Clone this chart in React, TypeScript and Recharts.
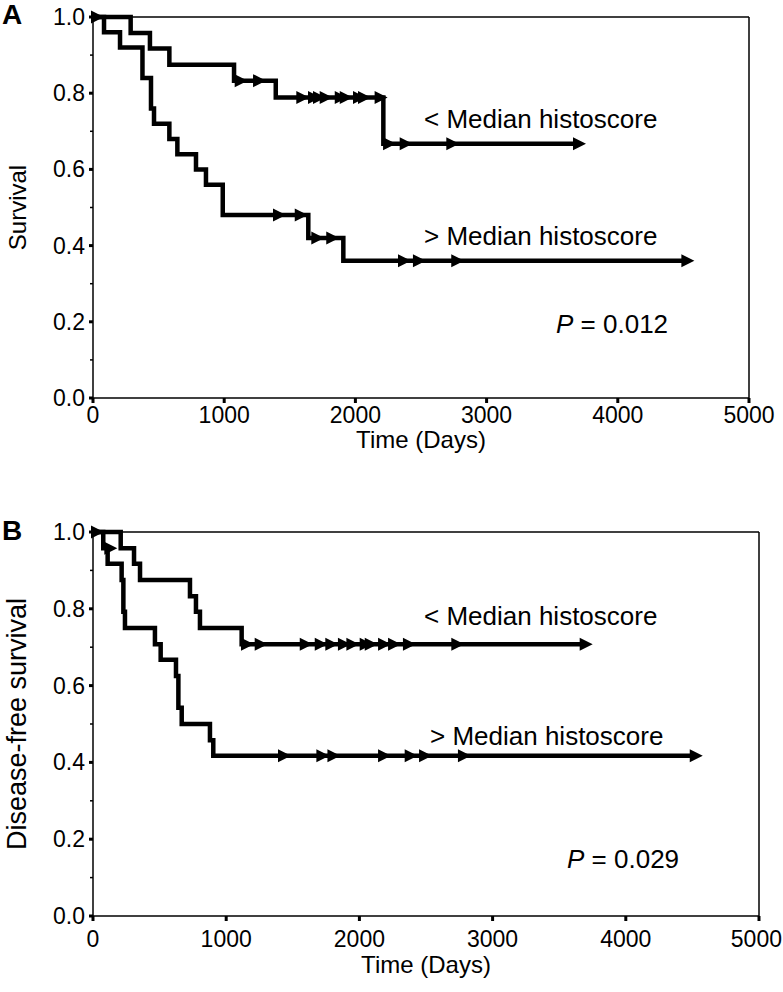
import React from "react";
import { ComposedChart, Line, XAxis, YAxis, ReferenceLine } from "recharts";

const FONT = '"Liberation Sans", Arial, Helvetica, sans-serif';

// Panel A - overall survival
const aUpTimes = [0, 287, 434, 582, 1075, 1393, 2213];
const aUpSurv = [1, 0.958, 0.917, 0.875, 0.833, 0.789, 0.667];
const aUpCensor = [0, 1095, 1235, 1565, 1654, 1692, 1743, 1858, 1896, 1997, 2035, 2162, 2226, 2353, 2708, 3674];

const aLowTimes = [0, 84, 206, 377, 442, 465, 582, 643, 785, 861, 989, 1641, 1908];
const aLowSurv = [1, 0.96, 0.92, 0.84, 0.76, 0.72, 0.68, 0.64, 0.6, 0.56, 0.48, 0.42, 0.36];
const aLowCensor = [1387, 1553, 1679, 1793, 2340, 2454, 2746, 4500];

// Panel B - disease-free survival
const bUpTimes = [0, 208, 308, 353, 728, 773, 803, 1116];
const bUpSurv = [1, 0.958, 0.917, 0.875, 0.833, 0.792, 0.75, 0.708];
const bUpCensor = [0, 1126, 1229, 1567, 1680, 1759, 1854, 1917, 2017, 2055, 2155, 2230, 2342, 2705, 3669];

const bLowTimes = [0, 77, 110, 215, 228, 240, 465, 508, 623, 641, 666, 878, 903];
const bLowSurv = [1, 0.958, 0.917, 0.875, 0.792, 0.75, 0.708, 0.667, 0.625, 0.542, 0.5, 0.458, 0.417];
const bLowCensor = [100, 1404, 1692, 1775, 2155, 2355, 2463, 2755, 4495];

const xTicks = [0, 1000, 2000, 3000, 4000, 5000];
const yTicks = [0, 0.1, 0.2, 0.3, 0.4, 0.5, 0.6, 0.7, 0.8, 0.9, 1];

// events + censored points, censored ones carry c: true
function kmPoints(times: number[], surv: number[], censor: number[]) {
  const pts = times.map((t, i) => ({ t, s: surv[i], c: false }));
  censor.forEach((t) => {
    let s = surv[0];
    times.forEach((et, i) => {
      if (et <= t) s = surv[i];
    });
    pts.push({ t, s, c: true });
  });
  return pts.sort((a, b) => a.t - b.t || (a.c ? 1 : 0) - (b.c ? 1 : 0));
}

const aUp = kmPoints(aUpTimes, aUpSurv, aUpCensor);
const aLow = kmPoints(aLowTimes, aLowSurv, aLowCensor);
const bUp = kmPoints(bUpTimes, bUpSurv, bUpCensor);
const bLow = kmPoints(bLowTimes, bLowSurv, bLowCensor);

const txt = { fontFamily: FONT, fill: "#000" };

function Censor(props: any) {
  const { cx, cy, payload, index } = props;
  if (!payload || !payload.c) return <g key={index} />;
  return (
    <polygon
      key={index}
      points={`${cx - 2},${cy - 6.5} ${cx + 11},${cy} ${cx - 2},${cy + 6.5}`}
      fill="#000"
    />
  );
}

function YTick(props: any) {
  const { x, y, payload } = props;
  const v = payload.value;
  const major = Math.round(v * 10) % 2 === 0;
  return (
    <g>
      <line x1={x - (major ? 4 : 3)} x2={x} y1={y} y2={y} stroke="#000" strokeWidth={major ? 3 : 1.5} />
      {major && (
        <text x={x - 8} y={y + 8} textAnchor="end" fontSize={23} {...txt}>
          {v.toFixed(1)}
        </text>
      )}
    </g>
  );
}

function makeXTick(gap: number) {
  return function XTick(props: any) {
    const { x, y, payload } = props;
    // keep the last label inside the page
    const overflow = x + 26 > 782;
    return (
      <g>
        <line x1={x} x2={x} y1={y} y2={y + 5} stroke="#000" strokeWidth={3} />
        <text
          x={overflow ? 782 : x}
          y={y + gap}
          textAnchor={overflow ? "end" : "middle"}
          fontSize={23}
          {...txt}
        >
          {payload.value}
        </text>
      </g>
    );
  };
}

const XTickA = makeXTick(25);
const XTickB = makeXTick(31);

function Panel({
  height,
  margin,
  upper,
  lower,
  letter,
  letterY,
  yLabel,
  yLabelSize,
  xTick,
  xLabelGap,
  upLabel,
  lowLabel,
  pText,
  pPos,
}: any) {
  // axes take 60px each, added to margin.left / margin.bottom
  const plotLeft = margin.left + 60;
  const plotBottom = height - margin.bottom - 60;
  const plotMidY = (margin.top + plotBottom) / 2;
  const plotMidX = (plotLeft + 783 - margin.right) / 2;
  const XT = xTick;
  return (
    <ComposedChart width={783} height={height} margin={margin}>
      <XAxis
        dataKey="t"
        type="number"
        domain={[0, 5000]}
        ticks={xTicks}
        interval={0}
        height={60}
        tickSize={0}
        tickMargin={0}
        tickLine={false}
        axisLine={{ stroke: "#000", strokeWidth: 1.5 }}
        tick={<XT />}
      />
      <YAxis
        type="number"
        domain={[0, 1]}
        ticks={yTicks}
        interval={0}
        width={60}
        tickSize={0}
        tickMargin={0}
        tickLine={false}
        axisLine={{ stroke: "#000", strokeWidth: 1.5 }}
        tick={<YTick />}
      />
      <ReferenceLine y={1} stroke="#000" strokeWidth={1.5} />
      <ReferenceLine x={5000} stroke="#000" strokeWidth={1.5} />
      <Line
        data={upper}
        dataKey="s"
        type="stepAfter"
        stroke="#000"
        strokeWidth={4.5}
        dot={Censor}
        activeDot={false}
        isAnimationActive={false}
      />
      <Line
        data={lower}
        dataKey="s"
        type="stepAfter"
        stroke="#000"
        strokeWidth={4.5}
        dot={Censor}
        activeDot={false}
        isAnimationActive={false}
      />
      <text x={2} y={letterY} fontSize={28} fontWeight="bold" {...txt}>
        {letter}
      </text>
      <text
        x={26}
        y={plotMidY}
        textAnchor="middle"
        fontSize={yLabelSize}
        transform={`rotate(-90, 26, ${plotMidY})`}
        {...txt}
      >
        {yLabel}
      </text>
      <text x={plotMidX} y={plotBottom + xLabelGap} textAnchor="middle" fontSize={24} {...txt}>
        Time (Days)
      </text>
      <text x={upLabel[0]} y={upLabel[1]} fontSize={26} {...txt}>
        {"< Median histoscore"}
      </text>
      <text x={lowLabel[0]} y={lowLabel[1]} fontSize={26} {...txt}>
        {"> Median histoscore"}
      </text>
      <text x={pPos[0]} y={pPos[1]} fontSize={26} {...txt}>
        <tspan fontStyle="italic">P</tspan> = {pText}
      </text>
    </ComposedChart>
  );
}

export default function App() {
  return (
    <div style={{ position: "absolute", left: 0, top: 0, width: 783, height: 992, background: "#fff" }}>
      <div style={{ position: "absolute", left: 0, top: 0 }}>
        <Panel
          height={490}
          margin={{ top: 17, right: 34, bottom: 32, left: 33 }}
          upper={aUp}
          lower={aLow}
          letter="A"
          letterY={24}
          yLabel="Survival"
          yLabelSize={24}
          xTick={XTickA}
          xLabelGap={50}
          upLabel={[424, 128]}
          lowLabel={[424, 245]}
          pText="0.012"
          pPos={[556, 333]}
        />
      </div>
      <div style={{ position: "absolute", left: 0, top: 490 }}>
        <Panel
          height={502}
          margin={{ top: 42, right: 24, bottom: 16, left: 33 }}
          upper={bUp}
          lower={bLow}
          letter="B"
          letterY={50}
          yLabel="Disease-free survival"
          yLabelSize={27}
          xTick={XTickB}
          xLabelGap={57}
          upLabel={[424, 135]}
          lowLabel={[430, 255]}
          pText="0.029"
          pPos={[567, 378]}
        />
      </div>
    </div>
  );
}
